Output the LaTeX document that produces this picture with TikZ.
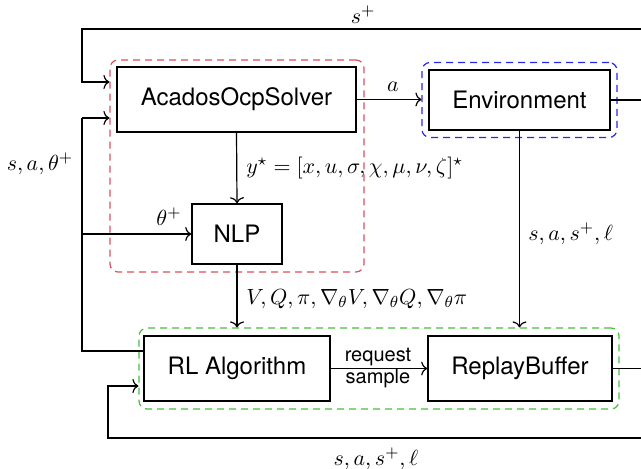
\documentclass[tikz,border=0pt]{standalone}
\usepackage{amsmath}
\usepackage{amssymb}
\usepackage{fontspec}
\setsansfont{TeX Gyre Heros}
\usetikzlibrary{calc,arrows.meta}

\definecolor{solvred}{RGB}{218,80,90}
\definecolor{envblue}{RGB}{40,40,235}
\definecolor{learngreen}{RGB}{70,190,60}

\begin{document}
\begin{tikzpicture}[x=0.5pt, y=-0.5pt, >={To[length=3pt,width=7pt]},
  block/.style={draw, thick, inner sep=0pt, font=\fontsize{12}{14}\selectfont\sffamily},
  group/.style={draw=#1, dashed, dash pattern=on 3.5pt off 2.5pt, rounded corners=4pt, inner sep=0pt, semithick},
  lbl/.style={inner sep=1pt, font=\fontsize{11}{13}\selectfont},
  flow/.style={->, semithick}]

\clip (0,0) rectangle (641,469);

\coordinate (S) at (236.5,99.5);
\coordinate (E) at (519.5,100);
\coordinate (N) at (237,234);
\coordinate (R) at (237,368.5);
\coordinate (B) at (520,368.5);

\coordinate (TopR) at (660,29);
\coordinate (BotR) at (660,438);
\coordinate (EnvR) at (660,100);
\coordinate (BufR) at (660,368.5);

\node[group=solvred, minimum width=127pt, minimum height=106pt] (red) at (237,166) {};
\node[group=envblue, minimum width=97.5pt, minimum height=37.5pt] (blue) at (E) {};
\node[group=learngreen, minimum width=240pt, minimum height=40.5pt] (green) at (379,368.5) {};

\node[block, minimum width=119.5pt, minimum height=32.5pt] (solver) at (S) {AcadosOcpSolver};
\node[block, minimum width=90.5pt, minimum height=30pt] (env) at (E) {Environment};
\node[block, minimum width=45pt, minimum height=30pt] (nlp) at (N) {NLP};
\node[block, minimum width=93pt, minimum height=32.5pt] (rl) at (R) {RL Algorithm};
\node[block, minimum width=92pt, minimum height=32.5pt] (buffer) at (B) {ReplayBuffer};

\coordinate (sIn) at (82,82);
\coordinate (fbIn) at (82,118);
\coordinate (fbOut) at ($(rl.west)+(0,-17.5)$);
\coordinate (bIn) at (108,386);

\draw[flow] (TopR) -| (sIn) -- (red.west |- sIn);
\node[lbl] (splus) at (363,15) {$s^+$};

\draw[semithick] (fbOut) -| (fbIn);
\draw[flow] (fbIn) -- (red.west |- fbIn);
\draw[flow] (fbIn |- nlp.west) -- (nlp.west);
\node[lbl] (feedback) at (40,164) {$s,a,\theta^+$};
\node[lbl] (thetaplus) at (169,217) {$\theta^+$};

\draw[flow] (solver.east) -- (blue.west |- solver.east);
\node[lbl] (act) at (393,87) {$a$};
\draw[semithick] (env.east) -- (EnvR);

\draw[flow] (solver.south) -- (nlp.north);
\node[lbl, anchor=west] (sol) at (244,168) {$y^\star = [x,u,\sigma,\chi,\mu,\nu,\zeta]^\star$};

\draw[flow] (nlp.south) -- (nlp.south |- green.north);
\node[lbl, anchor=west] (sens) at (244,299) {$V,Q,\pi,\nabla_\theta V,\nabla_\theta Q,\nabla_\theta \pi$};

\draw[flow] (env.south) -- (env.south |- green.north);
\node[lbl, anchor=west] (trans) at (526,234) {$s,a,s^+,\ell$};

\draw[flow] (rl.east) -- (buffer.west);
\node[inner sep=0pt, font=\fontsize{10}{12}\selectfont\sffamily] (req) at (378,357) {request};
\node[inner sep=0pt, font=\fontsize{10}{12}\selectfont\sffamily] (smp) at (378,378) {sample};

\draw[semithick] (buffer.east) -- (BufR);
\draw[flow] (BotR) -| (bIn) -- (green.west |- bIn);
\node[lbl] (batch) at (376,459) {$s,a,s^+,\ell$};

\end{tikzpicture}
\end{document}
